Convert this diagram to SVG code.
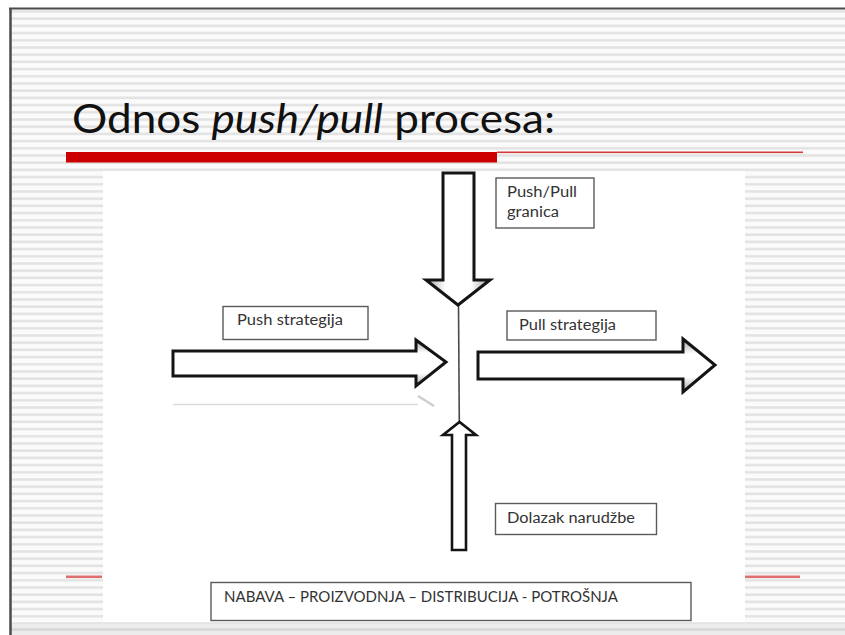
<svg xmlns="http://www.w3.org/2000/svg" width="845" height="635" viewBox="0 0 845 635">
<defs>
<pattern id="stripes" patternUnits="userSpaceOnUse" width="20" height="7.2" y="1">
<rect width="20" height="7.2" fill="#fbfbfb"/>
<rect y="2" width="20" height="2.6" fill="#e3e3e3"/>
</pattern>
<linearGradient id="gh" x1="0" y1="0" x2="1" y2="0">
<stop offset="0" stop-color="#a0a0a0"/>
<stop offset="0.3" stop-color="#ffffff"/>
<stop offset="0.7" stop-color="#ffffff"/>
<stop offset="1" stop-color="#a0a0a0"/>
</linearGradient>
<linearGradient id="gv" x1="0" y1="0" x2="0" y2="1">
<stop offset="0" stop-color="#a0a0a0"/>
<stop offset="0.28" stop-color="#ffffff"/>
<stop offset="0.72" stop-color="#ffffff"/>
<stop offset="1" stop-color="#a0a0a0"/>
</linearGradient>
</defs>
<style>
.box{fill:#ffffff;stroke:#5a5a5a;stroke-width:1.4}
.lbl{font-family:Lato,"Open Sans","Liberation Sans",sans-serif;font-size:14.5px;fill:#333333}
.blk{stroke:#141414;stroke-width:3;stroke-linejoin:miter}
.red{fill:#cc0000}
</style>
<!-- slide background -->
<rect width="845" height="635" fill="#ffffff"/>
<rect x="11" y="9" width="834" height="626" fill="url(#stripes)"/>
<rect x="11" y="624" width="834" height="11" fill="#ececec"/>
<rect x="11" y="628" width="834" height="3" fill="#dadada"/>
<line x1="10.5" y1="8" x2="10.5" y2="635" stroke="#4a4a4a" stroke-width="2.5"/>
<line x1="9" y1="8.5" x2="845" y2="8.5" stroke="#4a4a4a" stroke-width="2"/>
<g id="title">
<text x="72" y="133" font-family="Lato,'Open Sans','Liberation Sans',sans-serif" font-size="40" fill="#111111" textLength="483" lengthAdjust="spacingAndGlyphs">Odnos <tspan font-style="italic">push/pull</tspan> procesa:</text>
<rect class="red" x="66" y="152" width="431" height="10.5"/>
<rect x="497" y="151.5" width="306" height="1.6" fill="#d33a3a"/>
</g>
<rect x="66" y="575.5" width="36" height="2.6" fill="#e07070"/>
<rect x="745" y="575.5" width="55" height="2.6" fill="#e07070"/>
<!-- white diagram panel -->
<rect id="panel" x="103" y="171" width="642" height="451" fill="#ffffff"/>
<g id="connectors">
<line x1="458.5" y1="304" x2="459.3" y2="423" stroke="#4a4a4a" stroke-width="1.6"/>
</g>
<g id="arrow-down">
<polygon class="blk" fill="url(#gh)" points="443,173 474,173 474,280 490,280 458,305 426,280 443,280"/>
</g>
<g id="arrow-push">
<line x1="173" y1="404.5" x2="418" y2="404.5" stroke="#dadada" stroke-width="1.5"/>
<path d="M418,396 L434,406" stroke="#cfcfcf" stroke-width="2.5" fill="none"/>
<polygon class="blk" fill="url(#gv)" points="173,351 416,351 416,340 446,362 416,386 416,376 173,376"/>
</g>
<g id="arrow-pull">
<polygon class="blk" fill="url(#gv)" points="478,352 683,352 683,339 715,365 683,392 683,379 478,379"/>
</g>
<g id="arrow-up">
<polygon fill="#ffffff" stroke="#141414" stroke-width="2.6" points="452,550 452,435 443,435 459.5,422 476,435 466,435 466,550"/>
</g>
<g id="box-granica">
<rect class="box" x="496" y="178" width="98" height="50"/>
<text class="lbl" x="507" y="197" textLength="70" lengthAdjust="spacingAndGlyphs">Push/Pull</text>
<text class="lbl" x="507" y="217" textLength="52" lengthAdjust="spacingAndGlyphs">granica</text>
</g>
<g id="box-push">
<rect class="box" x="223" y="306.5" width="145" height="33"/>
<text class="lbl" x="237" y="325" textLength="106" lengthAdjust="spacingAndGlyphs">Push strategija</text>
</g>
<g id="box-pull">
<rect class="box" x="507" y="311" width="149" height="29"/>
<text class="lbl" x="519" y="330" textLength="97" lengthAdjust="spacingAndGlyphs">Pull strategija</text>
</g>
<g id="box-dolazak">
<rect class="box" x="495.5" y="503.5" width="161" height="31"/>
<text class="lbl" x="507" y="523" textLength="128" lengthAdjust="spacingAndGlyphs">Dolazak narudžbe</text>
</g>
<g id="box-lanac">
<rect class="box" x="211" y="582.5" width="480" height="38"/>
<text class="lbl" x="224" y="602" font-size="13" textLength="394" lengthAdjust="spacingAndGlyphs">NABAVA – PROIZVODNJA – DISTRIBUCIJA - POTROŠNJA</text>
</g>
</svg>
